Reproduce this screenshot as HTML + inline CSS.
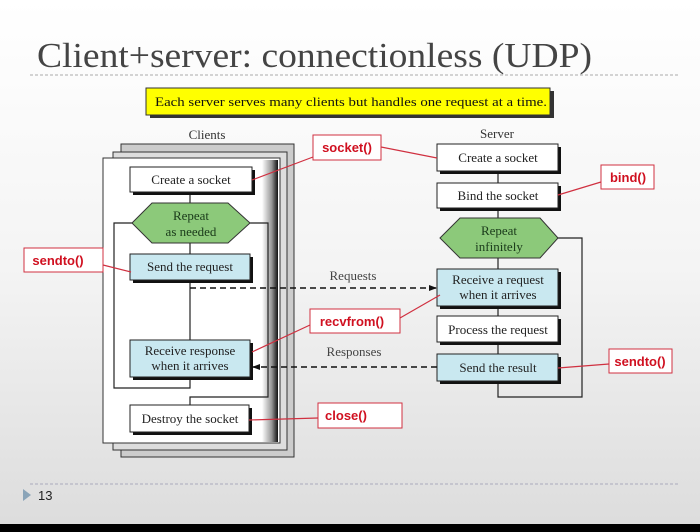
<!DOCTYPE html>
<html><head><meta charset="utf-8"><style>
html,body{margin:0;padding:0;width:700px;height:532px;overflow:hidden}
body{background:linear-gradient(#ffffff 0%,#f4f4f4 50%,#dcdcdc 100%)}
svg{display:block}
</style></head><body>
<svg width="700" height="532" xmlns="http://www.w3.org/2000/svg">
<defs>
<linearGradient id="edge" x1="0" x2="1" y1="0" y2="0">
<stop offset="0" stop-color="#fff"/><stop offset="0.6" stop-color="#999"/><stop offset="1" stop-color="#111"/>
</linearGradient>
<marker id="ar" markerWidth="8" markerHeight="8" refX="7" refY="4" orient="auto" markerUnits="userSpaceOnUse"><path d="M0,1 L8,4 L0,7 Z" fill="#111"/></marker>
</defs>
<text x="37" y="67" font-family="Liberation Serif, serif" font-size="35" fill="#444" textLength="555" lengthAdjust="spacingAndGlyphs">Client+server: connectionless (UDP)</text>
<line x1="30" y1="75" x2="678" y2="75" stroke="#aaa" stroke-dasharray="3,2"/>
<rect x="150" y="91" width="404" height="27" fill="#333"/>
<rect x="146" y="88" width="404" height="27" fill="#ffff00" stroke="#333"/>
<text x="155" y="106" font-family="Liberation Serif, serif" font-size="13" fill="#111" textLength="392" lengthAdjust="spacingAndGlyphs">Each server serves many clients but handles one request at a time.</text>

<text x="207" y="139" text-anchor="middle" font-family="Liberation Serif, serif" font-size="13" fill="#333">Clients</text>
<rect x="121" y="144" width="173" height="313" fill="#ccc" stroke="#333"/>
<rect x="113" y="152" width="174" height="298" fill="#ddd" stroke="#333"/>
<rect x="103" y="158" width="177" height="285" fill="#fff" stroke="#333"/>
<rect x="262" y="160" width="16" height="282" fill="url(#edge)"/>

<g stroke="#222" fill="none" stroke-width="1.2">
<line x1="190" y1="192" x2="190" y2="203"/><line x1="190" y1="243" x2="190" y2="254"/><line x1="190" y1="280" x2="190" y2="340"/>
<polyline points="132,223 114,223 114,388 190,388 190,377"/>
<polyline points="250,223 268,223 268,397 190,397 190,405"/>
<line x1="498" y1="171" x2="498" y2="183"/><line x1="498" y1="208" x2="498" y2="218"/><line x1="498" y1="258" x2="498" y2="269"/>
<line x1="498" y1="306" x2="498" y2="316"/><line x1="498" y1="342" x2="498" y2="354"/>
<polyline points="558,238 582,238 582,397 498,397 498,381"/>
</g>

<g font-family="Liberation Serif, serif" font-size="13" fill="#222" text-anchor="middle">
<rect x="133" y="170" width="122" height="25" fill="#111"/><rect x="130" y="167" width="122" height="25" fill="#fff" stroke="#222"/><text x="191" y="184">Create a socket</text>
<polygon points="132,223 152,203 228,203 250,223 228,243 152,243" fill="#8cc97a" stroke="#333"/>
<text x="191" y="220" fill="#1a3a1a">Repeat</text><text x="191" y="236" fill="#1a3a1a">as needed</text>
<rect x="133" y="257" width="120" height="26" fill="#111"/><rect x="130" y="254" width="120" height="26" fill="#c9e8f0" stroke="#222"/><text x="190" y="271">Send the request</text>
<rect x="133" y="343" width="120" height="37" fill="#111"/><rect x="130" y="340" width="120" height="37" fill="#c9e8f0" stroke="#222"/><text x="190" y="355">Receive response</text><text x="190" y="370">when it arrives</text>
<rect x="133" y="408" width="119" height="27" fill="#111"/><rect x="130" y="405" width="119" height="27" fill="#fff" stroke="#222"/><text x="190" y="423">Destroy the socket</text>

<text x="497" y="138" fill="#333">Server</text>
<rect x="440" y="147" width="121" height="27" fill="#111"/><rect x="437" y="144" width="121" height="27" fill="#fff" stroke="#222"/><text x="498" y="162">Create a socket</text>
<rect x="440" y="186" width="121" height="25" fill="#111"/><rect x="437" y="183" width="121" height="25" fill="#fff" stroke="#222"/><text x="498" y="200">Bind the socket</text>
<polygon points="440,238 460,218 540,218 558,238 540,258 460,258" fill="#8cc97a" stroke="#333"/>
<text x="499" y="235" fill="#1a3a1a">Repeat</text><text x="499" y="251" fill="#1a3a1a">infinitely</text>
<rect x="440" y="272" width="121" height="37" fill="#111"/><rect x="437" y="269" width="121" height="37" fill="#c9e8f0" stroke="#222"/><text x="498" y="284">Receive a request</text><text x="498" y="299">when it arrives</text>
<rect x="440" y="319" width="121" height="26" fill="#111"/><rect x="437" y="316" width="121" height="26" fill="#fff" stroke="#222"/><text x="498" y="334">Process the request</text>
<rect x="440" y="357" width="121" height="27" fill="#111"/><rect x="437" y="354" width="121" height="27" fill="#c9e8f0" stroke="#222"/><text x="498" y="372">Send the result</text>

<text x="353" y="280" fill="#444">Requests</text>
<text x="354" y="356" fill="#444">Responses</text>
</g>
<line x1="190" y1="288" x2="436" y2="288" stroke="#111" stroke-width="1.6" stroke-dasharray="6,4" marker-end="url(#ar)"/>
<line x1="437" y1="367" x2="253" y2="367" stroke="#111" stroke-width="1.6" stroke-dasharray="6,4" marker-end="url(#ar)"/>

<g stroke="#d03040" stroke-width="1.2" fill="none">
<line x1="313" y1="157" x2="252" y2="180"/><line x1="381" y1="147" x2="437" y2="158"/>
<line x1="601" y1="182" x2="558" y2="195"/>
<line x1="103" y1="265" x2="131" y2="272"/>
<line x1="310" y1="325" x2="252" y2="352"/><line x1="400" y1="318" x2="440" y2="295"/>
<line x1="609" y1="364" x2="558" y2="368"/>
<line x1="318" y1="418" x2="249" y2="420"/>
</g>
<g font-family="Liberation Sans, sans-serif" font-size="13" font-weight="bold" fill="#d01020" text-anchor="middle">
<rect x="313" y="135" width="68" height="25" fill="#fff" stroke="#d03040"/><text x="347" y="152">socket()</text>
<rect x="601" y="165" width="53" height="24" fill="#fff" stroke="#d03040"/><text x="628" y="182">bind()</text>
<rect x="24" y="248" width="79" height="24" fill="#fff" stroke="#d03040"/><text x="58" y="265">sendto()</text>
<rect x="310" y="309" width="90" height="24" fill="#fff" stroke="#d03040"/><text x="352" y="326">recvfrom()</text>
<rect x="609" y="349" width="63" height="24" fill="#fff" stroke="#d03040"/><text x="640" y="366">sendto()</text>
<rect x="318" y="403" width="84" height="25" fill="#fff" stroke="#d03040"/><text x="346" y="420">close()</text>
</g>

<line x1="30" y1="484" x2="678" y2="484" stroke="#aab" stroke-dasharray="3,2"/>
<polygon points="23,489 31,495 23,501" fill="#8aa4b8"/>
<text x="38" y="500" font-family="Liberation Sans, sans-serif" font-size="13" fill="#222">13</text>
<rect x="0" y="524" width="700" height="8" fill="#000"/>
</svg>
</body></html>
